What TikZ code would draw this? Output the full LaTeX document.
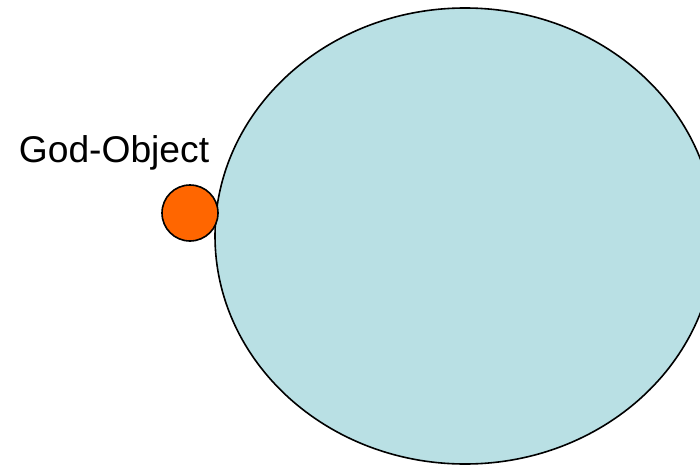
\documentclass[tikz,border=0pt]{standalone}
\usepackage{fontspec}
\setmainfont{Liberation Sans}
\usetikzlibrary{shapes.geometric,positioning}
\definecolor{paleblue}{RGB}{185,224,228}
\definecolor{godorange}{RGB}{255,102,0}

\begin{document}
\begin{tikzpicture}[
    x=0.5pt, y=-0.5pt,
    blob/.style={ellipse, draw, line width=0.8pt, fill=#1, inner sep=0pt},
    label/.style={font=\fontsize{18.6}{22}\selectfont, inner sep=0pt}
]
    \useasboundingbox (0,0) rectangle (700,465);
    \clip (0,0) rectangle (700,465);

    % System
    \node[blob=paleblue, minimum width=250pt, minimum height=228pt] (sys) at (465,236) {};

    % God object
    \node[blob=godorange, circle, minimum size=28pt] (god) at (190,213) {};
    \node[label, anchor=base west] (godtxt) at (18.5,162) {God-Object};
\end{tikzpicture}
\end{document}
